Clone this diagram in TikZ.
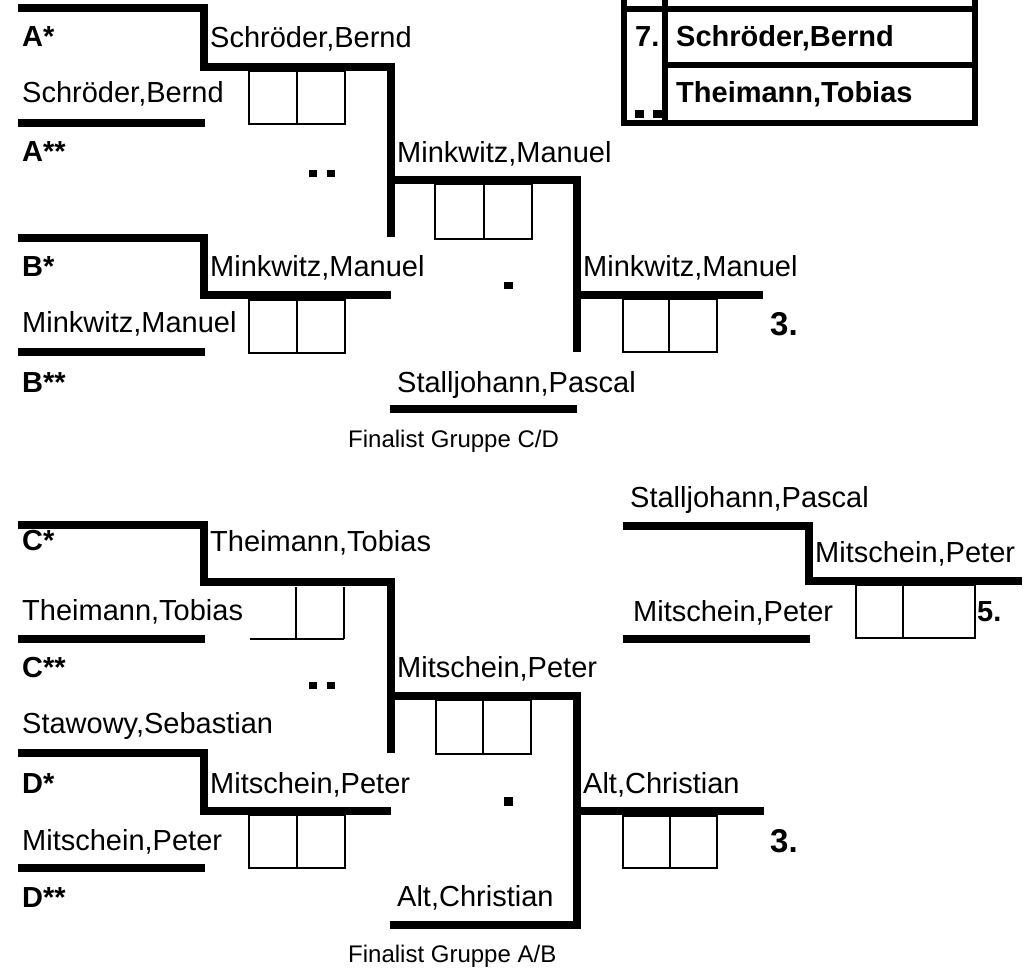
\documentclass[tikz,border=0pt]{standalone}
\usepackage{fontspec}
\setmainfont{Liberation Sans}
\tikzset{
  pname/.style={anchor=base west, inner sep=0pt, font=\fontsize{29}{34}\selectfont},
  plabel/.style={anchor=base west, inner sep=0pt, font=\fontsize{29}{34}\selectfont\bfseries},
  pbig/.style={anchor=base west, inner sep=0pt, font=\fontsize{33}{38}\selectfont\bfseries},
  psmall/.style={anchor=base west, inner sep=0pt, font=\fontsize{24}{28}\selectfont},
  heavy/.style={line width=8pt, line join=miter, line cap=butt},
  boxline/.style={line width=2.5pt},
  tabline/.style={line width=6pt, line cap=butt},
  dotsq/.style={fill=black}
}
\begin{document}
\begin{tikzpicture}[x=1pt, y=-1pt]
\useasboundingbox (0,0) rectangle (1028,968);

% ---------- top right table ----------
\draw[tabline] (621,9) -- (978,9);
\draw[tabline] (665,65) -- (975,65);
\draw[tabline] (621,123.5) -- (978,123.5);
\draw[tabline] (624,0) -- (624,126.5);
\draw[tabline] (665,0) -- (665,123.5);
\draw[tabline] (975,0) -- (975,126.5);
\node[plabel] (t7) at (635,47) {7.};
\node[plabel] (tsb) at (676,47) {Schröder,Bernd};
\node[plabel] (ttt) at (676,103) {Theimann,Tobias};
\fill[dotsq] (635,110) rectangle (644,118);
\fill[dotsq] (653,110) rectangle (662,118);

% ---------- upper bracket (groups A/B) ----------
\draw[heavy] (18,8) -- (204,8) -- (204,67) -- (391,67) -- (391,237);
\draw[heavy] (18,123.5) -- (205,123.5);
\draw[heavy] (18,238) -- (204,238) -- (204,295.5) -- (391,295.5);
\draw[heavy] (18,352) -- (205,352);
\draw[heavy] (391,180) -- (577,180) -- (577,352);
\draw[heavy] (577,295.5) -- (763,295.5);
\draw[heavy] (390,409) -- (577,409);

\draw[boxline] (249,71) rectangle (345,124); \draw[boxline] (297,71) -- (297,124);
\draw[boxline] (249,300) rectangle (345,353); \draw[boxline] (297,300) -- (297,353);
\draw[boxline] (435,184) rectangle (532,239); \draw[boxline] (484,184) -- (484,239);
\draw[boxline] (623,299) rectangle (717,352); \draw[boxline] (669,299) -- (669,352);

\fill[dotsq] (309,170) rectangle (317,177);
\fill[dotsq] (327,170) rectangle (335,177);
\fill[dotsq] (504,282) rectangle (513,289);

\node[plabel] (la1) at (22,47) {A*};
\node[plabel] (la2) at (22,162) {A**};
\node[plabel] (lb1) at (22,277) {B*};
\node[plabel] (lb2) at (22,392) {B**};
\node[pname] (n1) at (210,48) {Schröder,Bernd};
\node[pname] (n2) at (22,103) {Schröder,Bernd};
\node[pname] (n3) at (397,163) {Minkwitz,Manuel};
\node[pname] (n4) at (210,277) {Minkwitz,Manuel};
\node[pname] (n5) at (22,333) {Minkwitz,Manuel};
\node[pname] (n6) at (583,277) {Minkwitz,Manuel};
\node[pname] (n7) at (397,392) {Stalljohann,Pascal};
\node[pbig] (r1) at (770,335) {3.};
\node[psmall] (f1) at (348,447) {Finalist Gruppe C/D};

% ---------- right bracket (place 5) ----------
\draw[heavy] (623,526) -- (809,526) -- (809,581) -- (1022,581);
\draw[heavy] (623,639) -- (810,639);
\draw[boxline] (856,585) rectangle (975,638); \draw[boxline] (903,585) -- (903,638);
\node[pname] (n8) at (630,507) {Stalljohann,Pascal};
\node[pname] (n9) at (815,562) {Mitschein,Peter};
\node[pname] (n10) at (633,621) {Mitschein,Peter};
\node[plabel] (r5) at (977,621) {5.};

% ---------- lower bracket (groups C/D) ----------
\draw[heavy] (18,525) -- (204,525) -- (204,582) -- (391,582) -- (391,753);
\draw[heavy] (18,639) -- (205,639);
\draw[heavy] (18,753) -- (204,753) -- (204,811) -- (391,811);
\draw[heavy] (18,868) -- (205,868);
\draw[heavy] (391,696) -- (577,696) -- (577,925) -- (390,925);
\draw[heavy] (577,811) -- (764,811);

\draw[boxline] (250,639) -- (344,639);
\draw[boxline] (296,587) -- (296,639);
\draw[boxline] (344,587) -- (344,639);
\draw[boxline] (249,815) rectangle (345,868); \draw[boxline] (297,815) -- (297,868);
\draw[boxline] (436,700) rectangle (531,754); \draw[boxline] (483,700) -- (483,754);
\draw[boxline] (623,816) rectangle (717,868); \draw[boxline] (670,816) -- (670,868);

\fill[dotsq] (309,682) rectangle (317,689);
\fill[dotsq] (327,682) rectangle (335,689);
\fill[dotsq] (504,797) rectangle (513,806);

\node[plabel] (lc1) at (22,550) {C*};
\node[plabel] (lc2) at (22,677) {C**};
\node[plabel] (ld1) at (22,793) {D*};
\node[plabel] (ld2) at (22,907) {D**};
\node[pname] (m1) at (210,551) {Theimann,Tobias};
\node[pname] (m2) at (22,620) {Theimann,Tobias};
\node[pname] (m3) at (397,677) {Mitschein,Peter};
\node[pname] (m4) at (22,733) {Stawowy,Sebastian};
\node[pname] (m5) at (210,793) {Mitschein,Peter};
\node[pname] (m6) at (22,850) {Mitschein,Peter};
\node[pname] (m7) at (583,793) {Alt,Christian};
\node[pname] (m8) at (397,906) {Alt,Christian};
\node[pbig] (r2) at (770,852) {3.};
\node[psmall] (f2) at (348,962) {Finalist Gruppe A/B};
\end{tikzpicture}
\end{document}
